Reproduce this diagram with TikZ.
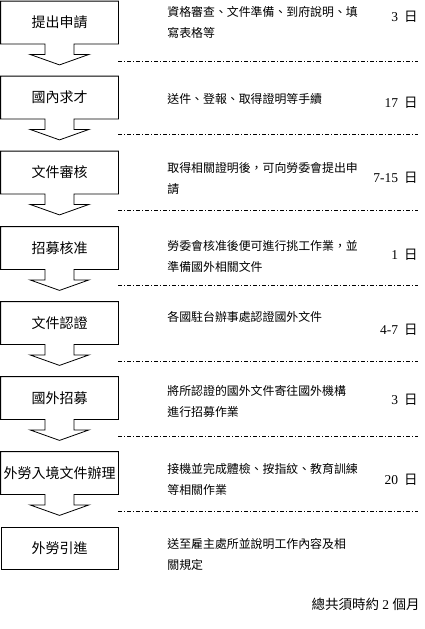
\documentclass[tikz,border=0pt]{standalone}
\usepackage{fontspec}
\setmainfont{Liberation Serif}
\newfontfamily\cjk{Noto Sans CJK TC}
\usetikzlibrary{calc}

\tikzset{
  stepbox/.style={minimum width=117pt,minimum height=42pt,inner sep=0pt,
    font=\cjk\fontsize{14}{16}\selectfont},
  desc/.style={anchor=west,align=left,inner sep=0pt,
    font=\cjk\fontsize{11.9}{21}\selectfont},
  days/.style={anchor=east,inner sep=0pt,font=\fontsize{13.5}{15}\selectfont},
  sepline/.style={line width=0.8pt,dash pattern=on 4pt off 2pt on 1pt off 2pt},
}

\begin{document}
\begin{tikzpicture}[x=1pt,y=-1pt,line width=0.8pt]
  \useasboundingbox[fill=white] (0,0) rectangle (425,629);
  % steps
  \node[stepbox] (s1) at (59.5,22.5) {提出申請};
  \node[stepbox] (s2) at (59.5,97.5) {國內求才};
  \node[stepbox] (s3) at (59.5,172.5) {文件審核};
  \node[stepbox] (s4) at (59.5,248) {招募核准};
  \node[stepbox] (s5) at (59.5,323) {文件認證};
  \node[stepbox] (s6) at (59.5,398) {國外招募};
  \node[stepbox] (s7) at (59.5,473) {外勞入境文件辦理};
  \node[stepbox,draw] (s8) at (59.5,548) {外勞引進};
  \foreach \i in {1,...,7}
    \draw (s\i.south west) -- (s\i.north west) -- (s\i.north east) -- (s\i.south east)
      -- ($(s\i.south)+(14.5,0)$) -- ++(0,10.5) -- ++(15,0) -- ($(s\i.south)+(0,21)$)
      -- ($(s\i.south)+(-29.5,10.5)$) -- ++(15,0) -- ++(0,-10.5) -- cycle;
  % descriptions
  \node[desc] (t1) at (167,22.5) {資格審查、文件準備、到府說明、填\\寫表格等};
  \node[desc] (t2) at (167,98.5) {送件、登報、取得證明等手續};
  \node[desc] (t3) at (167,179) {取得相關證明後，可向勞委會提出申\\請};
  \node[desc] (t4) at (167,256.5) {勞委會核准後便可進行挑工作業，並\\準備國外相關文件};
  \node[desc] (t5) at (167,317) {各國駐台辦事處認證國外文件};
  \node[desc] (t6) at (167,401) {將所認證的國外文件寄往國外機構\\進行招募作業};
  \node[desc] (t7) at (167,479) {接機並完成體檢、按指紋、教育訓練\\等相關作業};
  \node[desc] (t8) at (167,554) {送至雇主處所並說明工作內容及相\\關規定};
  % days
  \node[days] (d1) at (418,17) {3\hspace{6pt}{\cjk 日}};
  \node[days] (d2) at (418,103) {17\hspace{6pt}{\cjk 日}};
  \node[days] (d3) at (418,178) {7-15\hspace{6pt}{\cjk 日}};
  \node[days] (d4) at (418,255) {1\hspace{6pt}{\cjk 日}};
  \node[days] (d5) at (418,330) {4-7\hspace{6pt}{\cjk 日}};
  \node[days] (d6) at (418,400) {3\hspace{6pt}{\cjk 日}};
  \node[days] (d7) at (418,480) {20\hspace{6pt}{\cjk 日}};
  \node[days] (total) at (420,604) {{\cjk 總共須時約} 2 {\cjk 個月}};
  % separators
  \draw[sepline] (118,61.5) -- (418,61.5);
  \draw[sepline] (118,134.5) -- (418,134.5);
  \draw[sepline] (118,210.5) -- (418,210.5);
  \draw[sepline] (118,285.5) -- (418,285.5);
  \draw[sepline] (118,361) -- (418,361);
  \draw[sepline] (118,436) -- (418,436);
  \draw[sepline] (118,511) -- (418,511);
\end{tikzpicture}
\end{document}
